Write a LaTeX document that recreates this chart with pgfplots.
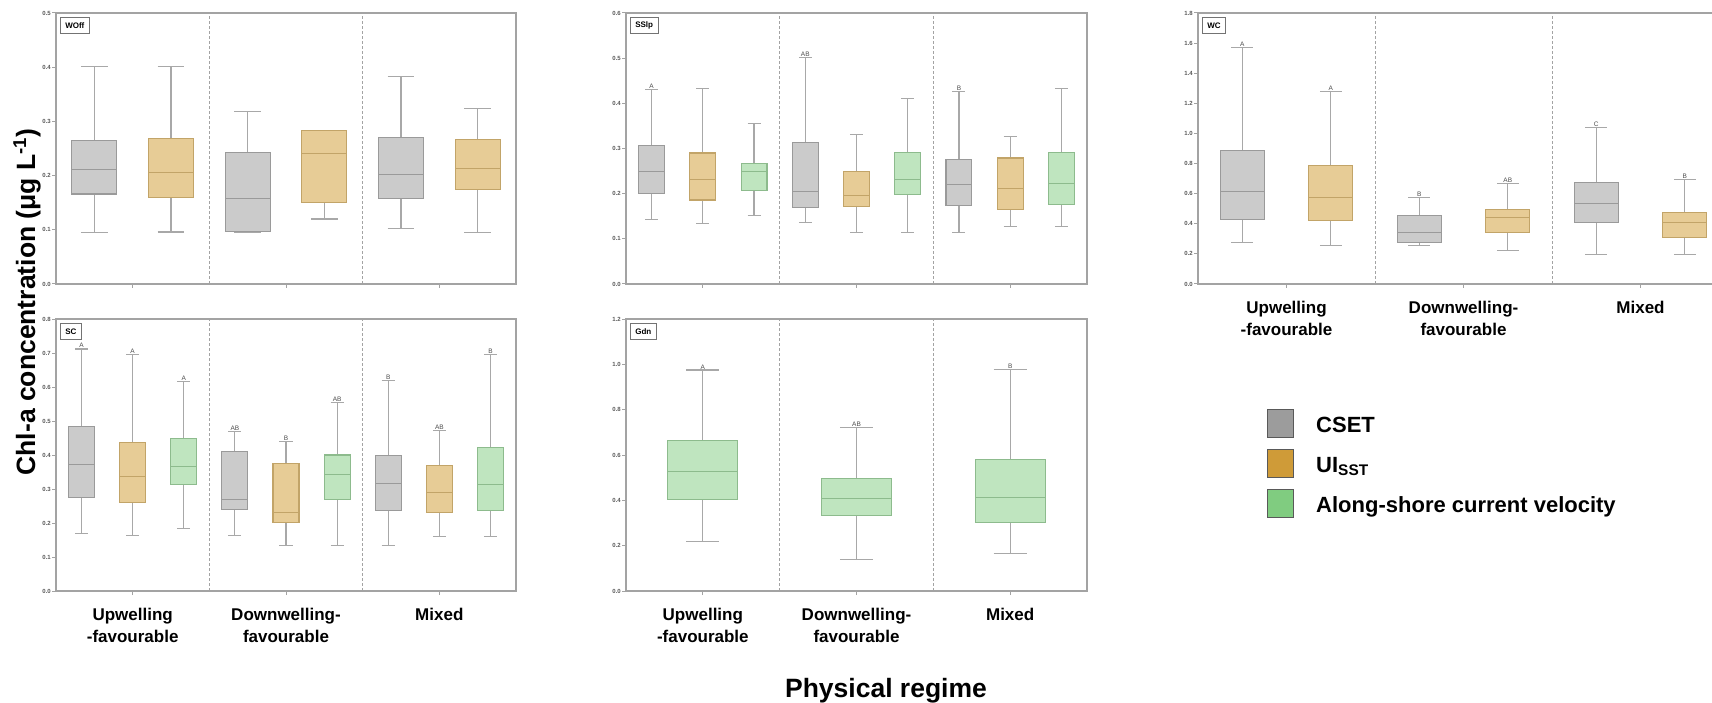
\documentclass[border=0pt]{standalone}
\usepackage{fontspec}
\setmainfont{Liberation Sans}
\usepackage{pgfplots}
\pgfplotsset{compat=1.18}
\usepgfplotslibrary{statistics}

\definecolor{csetfill}{HTML}{CBCBCB}
\definecolor{csetedge}{HTML}{9A9A9A}
\definecolor{uifill}{HTML}{E7CC96}
\definecolor{uiedge}{HTML}{C2A468}
\definecolor{alfill}{HTML}{BFE5BF}
\definecolor{aledge}{HTML}{8DBB8D}
\definecolor{whisk}{HTML}{A8A8A8}
\definecolor{frame}{HTML}{A3A3A3}
\definecolor{csetkey}{HTML}{9C9C9C}
\definecolor{uikey}{HTML}{CF9B38}
\definecolor{alkey}{HTML}{80CC80}

\pgfplotsset{
  panel/.style={
    scale only axis, anchor=south west, clip=false,
    xmin=0, xmax=3, ymin=0,
    xtick={0.5,1.5,2.5}, xticklabels={},
    tick pos=left, tick align=outside, major tick length=4pt,
    axis line style={frame, line width=1.3pt},
    tick style={frame, line width=1pt},
    extra x ticks={1,2}, extra x tick labels={},
    extra x tick style={grid=major, major tick length=0pt,
      major grid style={frame, line width=0.8pt, dash pattern=on 3pt off 2pt}},
    yticklabel style={font=\bfseries\fontsize{6}{7}\selectfont, text=black!65, inner sep=1pt,
      /pgf/number format/fixed, /pgf/number format/fixed zerofill,
      /pgf/number format/precision=1, /pgf/number format/assume math mode=true},
    xticklabel style={font=\bfseries\fontsize{17}{22}\selectfont, align=center, yshift=-10pt},
  },
  catlabels/.style={xticklabels={{Upwelling\\-favourable},{Downwelling-\\favourable},{Mixed}}},
  cset/.style={boxplot/every box/.style={draw=csetedge, fill=csetfill, line width=1.1pt},
    boxplot/every median/.style={draw=csetedge, line width=1pt},
    boxplot/every whisker/.style={draw=whisk, line width=1.2pt}},
  ui/.style={boxplot/every box/.style={draw=uiedge, fill=uifill, line width=1.1pt},
    boxplot/every median/.style={draw=uiedge, line width=1pt},
    boxplot/every whisker/.style={draw=whisk, line width=1.2pt}},
  al/.style={boxplot/every box/.style={draw=aledge, fill=alfill, line width=1.1pt},
    boxplot/every median/.style={draw=aledge, line width=1pt},
    boxplot/every whisker/.style={draw=whisk, line width=1.2pt}},
  keyswatch/.style={legend image code/.code={
    \draw[##1] (0pt,-12.4pt) rectangle (26pt,15.6pt); \path (46pt,0pt);}},
}

% one vertical box: style, position, lower whisker, Q1, median, Q3, upper whisker
\newcommand{\bx}[7]{\addplot[#1, boxplot/draw direction=y, boxplot prepared={draw position=#2,
  lower whisker=#3, lower quartile=#4, median=#5, upper quartile=#6,
  upper whisker=#7}] coordinates {};}
% significance letter above a whisker
\newcommand{\sig}[3]{\node[font=\fontsize{6.5}{7}\selectfont, text=black!70,
  anchor=south, inner sep=0.8pt] at (axis cs:#1,#2) {#3};}
% site name in the top-left corner of a panel
\newcommand{\paneltag}[1]{\node[draw=black!55, line width=0.6pt, fill=white,
  font=\bfseries\fontsize{8}{9}\selectfont, anchor=north west, inner xsep=5pt,
  inner ysep=0pt, minimum height=16pt] at ([xshift=4pt,yshift=-4pt]rel axis cs:0,1) {#1};}

\begin{document}
\begin{tikzpicture}

% ---------------- WOff ----------------
\begin{axis}[panel, at={(56pt,418pt)}, width=460pt, height=271pt,
  ymax=0.5, ytick distance=0.1,
  every axis plot/.append style={boxplot/box extend=0.294, boxplot/whisker extend=0.176}]
\bx{cset}{0.25}{0.095}{0.166}{0.211}{0.265}{0.402}
\bx{ui}{0.75}{0.096}{0.159}{0.205}{0.268}{0.402}
\bx{cset}{1.25}{0.096}{0.097}{0.158}{0.242}{0.318}
\bx{ui}{1.75}{0.120}{0.150}{0.240}{0.283}{0.283}
\bx{cset}{2.25}{0.102}{0.157}{0.202}{0.271}{0.383}
\bx{ui}{2.75}{0.095}{0.174}{0.213}{0.266}{0.324}
\paneltag{WOff}
\end{axis}

% ---------------- SSlp ----------------
\begin{axis}[panel, at={(626pt,418pt)}, width=461pt, height=271pt,
  ymax=0.6, ytick distance=0.1,
  every axis plot/.append style={boxplot/box extend=0.169, boxplot/whisker extend=0.085}]
\bx{cset}{0.1667}{0.143}{0.200}{0.249}{0.306}{0.431}
\bx{ui}{0.5}{0.134}{0.186}{0.232}{0.290}{0.432}
\bx{al}{0.8333}{0.152}{0.208}{0.249}{0.267}{0.356}
\bx{cset}{1.1667}{0.137}{0.169}{0.205}{0.314}{0.502}
\bx{ui}{1.5}{0.114}{0.172}{0.197}{0.249}{0.331}
\bx{al}{1.8333}{0.114}{0.199}{0.232}{0.292}{0.411}
\bx{cset}{2.1667}{0.114}{0.173}{0.220}{0.275}{0.427}
\bx{ui}{2.5}{0.127}{0.164}{0.212}{0.279}{0.326}
\bx{al}{2.8333}{0.127}{0.176}{0.223}{0.292}{0.432}
\sig{0.1667}{0.431}{A}
\sig{1.1667}{0.502}{AB}
\sig{2.1667}{0.427}{B}
\paneltag{SSlp}
\end{axis}

% ---------------- WC ----------------
\begin{axis}[panel, catlabels, at={(1198pt,418pt)}, width=531pt, height=271pt,
  ymax=1.8, ytick distance=0.2,
  every axis plot/.append style={boxplot/box extend=0.249, boxplot/whisker extend=0.124}]
\bx{cset}{0.25}{0.275}{0.428}{0.615}{0.886}{1.573}
\bx{ui}{0.75}{0.257}{0.422}{0.575}{0.790}{1.276}
\bx{cset}{1.25}{0.257}{0.275}{0.342}{0.453}{0.577}
\bx{ui}{1.75}{0.222}{0.342}{0.442}{0.495}{0.670}
\bx{cset}{2.25}{0.198}{0.411}{0.535}{0.675}{1.041}
\bx{ui}{2.75}{0.198}{0.309}{0.411}{0.477}{0.695}
\sig{0.25}{1.573}{A}
\sig{0.75}{1.276}{A}
\sig{1.25}{0.577}{B}
\sig{1.75}{0.670}{AB}
\sig{2.25}{1.041}{C}
\sig{2.75}{0.695}{B}
\paneltag{WC}
\end{axis}

% ---------------- SC ----------------
\begin{axis}[panel, catlabels, at={(56pt,111pt)}, width=460pt, height=272pt,
  ymax=0.8, ytick distance=0.1,
  every axis plot/.append style={boxplot/box extend=0.169, boxplot/whisker extend=0.085}]
\bx{cset}{0.1667}{0.170}{0.274}{0.372}{0.485}{0.712}
\bx{ui}{0.5}{0.163}{0.260}{0.336}{0.436}{0.695}
\bx{al}{0.8333}{0.183}{0.314}{0.366}{0.449}{0.617}
\bx{cset}{1.1667}{0.163}{0.239}{0.269}{0.410}{0.470}
\bx{ui}{1.5}{0.135}{0.201}{0.231}{0.375}{0.439}
\bx{al}{1.8333}{0.135}{0.269}{0.343}{0.400}{0.554}
\bx{cset}{2.1667}{0.135}{0.237}{0.315}{0.399}{0.620}
\bx{ui}{2.5}{0.161}{0.230}{0.289}{0.370}{0.471}
\bx{al}{2.8333}{0.161}{0.236}{0.313}{0.423}{0.695}
\sig{0.1667}{0.712}{A}
\sig{0.5}{0.695}{A}
\sig{0.8333}{0.617}{A}
\sig{1.1667}{0.470}{AB}
\sig{1.5}{0.439}{B}
\sig{1.8333}{0.554}{AB}
\sig{2.1667}{0.620}{B}
\sig{2.5}{0.471}{AB}
\sig{2.8333}{0.695}{B}
\paneltag{SC}
\end{axis}

% ---------------- Gdn (carries the legend) ----------------
\begin{axis}[panel, catlabels, at={(626pt,111pt)}, width=461pt, height=272pt,
  ymax=1.2, ytick distance=0.2,
  every axis plot/.append style={boxplot/box extend=0.456, boxplot/whisker extend=0.215},
  legend cell align=left,
  legend style={at={(axis description cs:1.3905,0.6691)}, anchor=north west,
    draw=none, fill=none, inner xsep=0pt, inner ysep=0pt, row sep=11pt,
    font=\bfseries\fontsize{22}{26}\selectfont, nodes={inner sep=2pt}}]
\addlegendimage{keyswatch, fill=csetkey, draw=black!65, line width=1pt}
\addlegendentry{CSET}
\addlegendimage{keyswatch, fill=uikey, draw=black!65, line width=1pt}
\addlegendentry{UI\textsubscript{SST}}
\addlegendimage{keyswatch, fill=alkey, draw=black!65, line width=1pt}
\addlegendentry{Along-shore current velocity}
\bx{al}{0.5}{0.219}{0.403}{0.528}{0.662}{0.975}
\bx{al}{1.5}{0.139}{0.333}{0.406}{0.495}{0.721}
\bx{al}{2.5}{0.167}{0.303}{0.412}{0.579}{0.977}
\sig{0.5}{0.975}{A}
\sig{1.5}{0.721}{AB}
\sig{2.5}{0.977}{B}
\paneltag{Gdn}
\end{axis}

% shared axis titles
\node[rotate=90, font=\bfseries\fontsize{26.5}{30}\selectfont] at (27pt,400pt)
  {Chl-a concentration (μg L\textsuperscript{-1})};
\node[anchor=base, font=\bfseries\fontsize{26.5}{30}\selectfont] at (886pt,5pt)
  {Physical regime};

\pgfresetboundingbox
\path[use as bounding box] (0pt,0pt) rectangle (1712pt,702pt);
\end{tikzpicture}
\end{document}
